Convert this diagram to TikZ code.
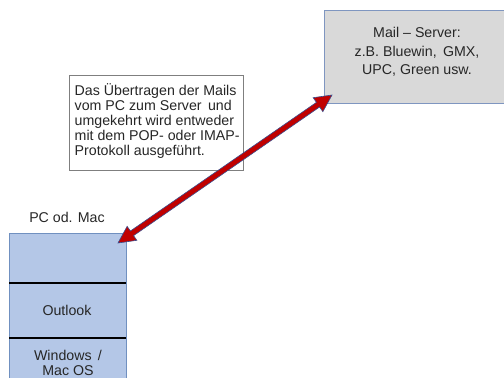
\documentclass[tikz,border=0pt]{standalone}
\usepackage{fontspec}
\setmainfont{Liberation Sans}
\usetikzlibrary{calc}
\definecolor{pcfill}{HTML}{B4C7E7}
\definecolor{pcline}{HTML}{7090C0}
\definecolor{srvfill}{HTML}{D9D9D9}
\definecolor{srvline}{HTML}{7F96C0}
\definecolor{boxline}{HTML}{7F7F7F}
\definecolor{arrred}{HTML}{C00000}
\definecolor{arrline}{HTML}{3A4F8F}
\definecolor{txt}{HTML}{262626}
\tikzset{
  lbl/.style={font=\fontsize{14.2}{15}\selectfont, text=txt, align=center, inner sep=0pt},
  divider/.style={draw=black, line width=1.2pt},
}
\begin{document}
\begin{tikzpicture}[x=1pt,y=-1pt]
\useasboundingbox (0,0) rectangle (504,378);
\clip (0,0) rectangle (504,378);
% server box
\draw[fill=srvfill, draw=srvline, line width=1pt] (324,10) rectangle (512,103);
\node[lbl] (srv) at (417,52) {Mail – Server:\\[3.5pt]z.B. Bluewin,\, GMX,\\[3.5pt]UPC, Green usw.};
% text box
\node[draw=boxline, line width=0.8pt, fill=white, minimum width=174pt, minimum height=95pt,
      inner sep=0pt, anchor=north west] (info) at (69,75) {};
\node[lbl, align=left, anchor=north west] (infotext) at ([xshift=5.5pt,yshift=-8.5pt]info.north west)
  {Das Übertragen der Mails\\vom PC zum Server\, und\\umgekehrt wird entweder\\mit dem POP- oder IMAP-\\Protokoll ausgeführt.};
% PC box
\draw[fill=pcfill, draw=pcline, line width=1pt] (9,233) rectangle (126,390);
\coordinate (d1l) at (9,283); \coordinate (d1r) at (126,283);
\coordinate (d2l) at (9,338); \coordinate (d2r) at (126,338);
\draw[divider] (d1l) -- (d1r);
\draw[divider] (d2l) -- (d2r);
\node[lbl] (pc) at (67,217) {PC od. Mac};
\node[lbl] (outlook) at (67,310) {Outlook};
\node[lbl] (os) at (68,362.5) {Windows\, /\\Mac OS};
% double arrow
\coordinate (A) at (118,243);
\coordinate (B) at (332,95);
\def\hl{17pt}\def\hw{8.5pt}\def\sw{2.8pt}
\draw[fill=arrred, draw=arrline, line width=0.6pt, line join=miter]
  (A)
  -- ($(A)!\hl!(B)!\hw!90:(B)$)
  -- ($(A)!\hl!(B)!\sw!90:(B)$)
  -- ($(B)!\hl!(A)!\sw!-90:(A)$)
  -- ($(B)!\hl!(A)!\hw!-90:(A)$)
  -- (B)
  -- ($(B)!\hl!(A)!\hw!90:(A)$)
  -- ($(B)!\hl!(A)!\sw!90:(A)$)
  -- ($(A)!\hl!(B)!\sw!-90:(B)$)
  -- ($(A)!\hl!(B)!\hw!-90:(B)$)
  -- cycle;
\end{tikzpicture}
\end{document}
